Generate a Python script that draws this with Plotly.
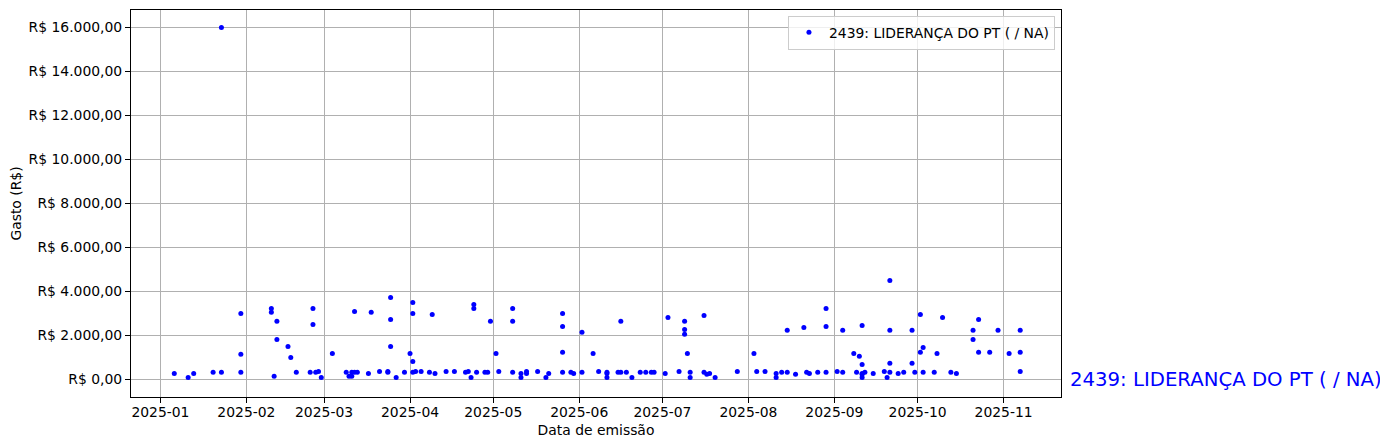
import plotly.graph_objects as go

dates = [
    "2025-01-06", "2025-01-11", "2025-01-13", "2025-01-20", "2025-01-23", "2025-01-23",
    "2025-01-30", "2025-01-30", "2025-01-30",
    "2025-02-10", "2025-02-10", "2025-02-11", "2025-02-12", "2025-02-12",
    "2025-02-16", "2025-02-17", "2025-02-19", "2025-02-24", "2025-02-25", "2025-02-25",
    "2025-02-26", "2025-02-27", "2025-02-28",
    "2025-03-04", "2025-03-09", "2025-03-10", "2025-03-11", "2025-03-11",
    "2025-03-12", "2025-03-12", "2025-03-13", "2025-03-17", "2025-03-18",
    "2025-03-21", "2025-03-24", "2025-03-24", "2025-03-25", "2025-03-25", "2025-03-25",
    "2025-03-27", "2025-03-30",
    "2025-04-01", "2025-04-02", "2025-04-02", "2025-04-02", "2025-04-02", "2025-04-03",
    "2025-04-05", "2025-04-08", "2025-04-09", "2025-04-10", "2025-04-14", "2025-04-17",
    "2025-04-21", "2025-04-22", "2025-04-23", "2025-04-24", "2025-04-24", "2025-04-25",
    "2025-04-28", "2025-04-29", "2025-04-30",
    "2025-05-02", "2025-05-03", "2025-05-08", "2025-05-08", "2025-05-08",
    "2025-05-11", "2025-05-11", "2025-05-13", "2025-05-13", "2025-05-17",
    "2025-05-20", "2025-05-21", "2025-05-26", "2025-05-26", "2025-05-26", "2025-05-26",
    "2025-05-29", "2025-05-30",
    "2025-06-02", "2025-06-02", "2025-06-06", "2025-06-08", "2025-06-11", "2025-06-11",
    "2025-06-11", "2025-06-15", "2025-06-16", "2025-06-16", "2025-06-18", "2025-06-20",
    "2025-06-23", "2025-06-25", "2025-06-27", "2025-06-28",
    "2025-07-02", "2025-07-03", "2025-07-07", "2025-07-09", "2025-07-09", "2025-07-09",
    "2025-07-10", "2025-07-11", "2025-07-11", "2025-07-16", "2025-07-16", "2025-07-17",
    "2025-07-18", "2025-07-20", "2025-07-28",
    "2025-08-03", "2025-08-04", "2025-08-07", "2025-08-11", "2025-08-11", "2025-08-13",
    "2025-08-15", "2025-08-15", "2025-08-18", "2025-08-21", "2025-08-22", "2025-08-23",
    "2025-08-26", "2025-08-29", "2025-08-29", "2025-08-29",
    "2025-09-02", "2025-09-04", "2025-09-04", "2025-09-08", "2025-09-09", "2025-09-10",
    "2025-09-11", "2025-09-11", "2025-09-11", "2025-09-11", "2025-09-12", "2025-09-11",
    "2025-09-15", "2025-09-19", "2025-09-20", "2025-09-21", "2025-09-21", "2025-09-21",
    "2025-09-21", "2025-09-24", "2025-09-26", "2025-09-29", "2025-09-29", "2025-09-30",
    "2025-10-02", "2025-10-02", "2025-10-03", "2025-10-03", "2025-10-07", "2025-10-08",
    "2025-10-10", "2025-10-13", "2025-10-15", "2025-10-21", "2025-10-21", "2025-10-23",
    "2025-10-23", "2025-10-27", "2025-10-30",
    "2025-11-03", "2025-11-07", "2025-11-07", "2025-11-07",
]

values = [
    270, 90, 270, 320, 16000, 320,
    3000, 1140, 320,
    3230, 3050, 140, 2640, 1820,
    1500, 1000, 320, 320, 2500, 3230,
    320, 360, 90,
    1180, 320, 140, 140, 320,
    3090, 320, 320, 270, 3050,
    360, 360, 320, 3730, 2730, 1500,
    90, 320,
    1180, 3500, 3000, 820, 320, 360,
    360, 320, 2950, 270, 360, 360,
    320, 360, 90, 3410, 3230, 320,
    320, 320, 2640,
    1180, 360, 3230, 2640, 320,
    270, 90, 360, 270, 360,
    90, 270, 3000, 2410, 1230, 320,
    320, 270,
    2140, 320, 1180, 360, 320, 270,
    90, 320, 320, 2640, 320, 90,
    320, 320, 320, 320,
    270, 2820, 360, 2640, 2270, 2050,
    1180, 320, 90, 2910, 320, 230,
    270, 90, 360,
    1180, 360, 360, 270, 90, 320,
    2230, 320, 230, 2360, 320, 270,
    320, 3230, 2410, 320,
    360, 2230, 320, 1180, 320, 1050,
    2450, 680, 270, 90, 320, 230,
    270, 360, 90, 4500, 2230, 730,
    320, 270, 320, 2230, 730, 320,
    2950, 1230, 1450, 320, 320, 1180,
    2820, 320, 270, 2230, 1820, 2730,
    1230, 1230, 2230,
    1180, 2230, 1230, 360,
]

series_name = "2439: LIDERANÇA DO PT ( / NA)"
y_tick_vals = [0, 2000, 4000, 6000, 8000, 10000, 12000, 14000, 16000]
y_tick_text = ["R$ 0,00", "R$ 2.000,00", "R$ 4.000,00", "R$ 6.000,00", "R$ 8.000,00",
               "R$ 10.000,00", "R$ 12.000,00", "R$ 14.000,00", "R$ 16.000,00"]

FONT = "DejaVu Sans"
fig = go.Figure()
fig.add_trace(go.Scatter(
    x=dates, y=values, mode="markers", name=series_name,
    marker=dict(color="blue", size=5, line=dict(width=0)),
))

axis_common = dict(
    showline=True, linecolor="black", linewidth=1.1, mirror=True,
    ticks="outside", ticklen=5, tickwidth=1.1, tickcolor="black",
    showgrid=True, gridcolor="#b0b0b0", gridwidth=1,
    zeroline=False, automargin=False,
    tickfont=dict(family=FONT, size=13.9, color="black"),
)

# page body has an 8px margin, so the figure is sized/offset to compensate
fig.update_layout(
    width=1380, height=440,
    margin=dict(l=123, r=327, t=2, b=51),
    paper_bgcolor="white", plot_bgcolor="white",
    font=dict(family=FONT, size=13.9, color="black"),
    showlegend=True,
    legend=dict(
        x=0.9935, y=0.985, xanchor="right", yanchor="top",
        bgcolor="rgba(255,255,255,0.8)", bordercolor="#cccccc", borderwidth=1,
        font=dict(family=FONT, size=13.9, color="black"),
    ),
    xaxis=dict(
        axis_common,
        type="date",
        range=["2024-12-21 09:30", "2025-11-21 17:00"],
        dtick="M1", tick0="2025-01-01", tickformat="%Y-%m",
        ticklabelstandoff=-3,
        title=dict(text="Data de emissão", font=dict(family=FONT, size=13.9), standoff=6),
    ),
    yaxis=dict(
        axis_common,
        range=[-800, 16800],
        tickvals=y_tick_vals, ticktext=y_tick_text,
        title=dict(text="Gasto (R$)", font=dict(family=FONT, size=13.9), standoff=3),
    ),
)

fig.add_annotation(
    text=series_name, xref="paper", yref="y", x=1.0075, y=0,
    xanchor="left", yanchor="middle", showarrow=False,
    font=dict(family=FONT, size=19.7, color="blue"),
)

fig.write_html("out.html")
